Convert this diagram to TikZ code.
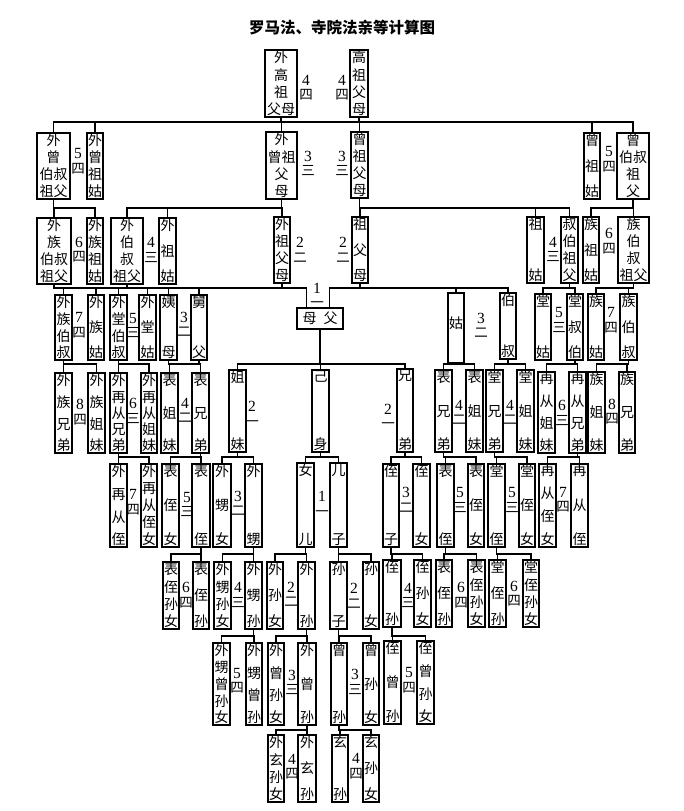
\documentclass[tikz,border=0pt]{standalone}
\usepackage{fontspec}
\setmainfont{Liberation Serif}
\newfontfamily\cjk{Noto Sans CJK SC}
\tikzset{
  bx/.style={draw, line width=1.5pt, inner sep=0pt, fill=white, font=\cjk\fontsize{14}{14}\selectfont},
  ln/.style={line width=1.1pt, line cap=rect},
  lab/.style={inner sep=0pt, align=center, font=\fontsize{15.5}{14.5}\selectfont},
}
\newcommand\nx{\par\vfill}
\newcommand\B[6]{%
  \node[bx, minimum width={#4-#2}, minimum height={#5-#3}] (#1) at ({(#2+#4)/2},{(#3+#5)/2})
  {\parbox[c][\dimexpr #5pt-#3pt-3pt\relax][s]{\dimexpr #4pt-#2pt\relax}{\centering #6\par}};}
\newcommand\Lb[6]{\node[lab] (#1) at (#2,{(#3+#4)/2}) {#5\\{\cjk\fontsize{13.5}{13.5}\selectfont #6}};}
\newcommand\famly[4]{%
  \coordinate (barY) at (0,#1);
  \draw[ln] (#2 |- barY) -- (#3 |- barY);
  \foreach \p in {#4}{\edef\tmp{\noexpand\draw[ln] (\p) -- (\p |- barY);}\tmp}%
}
\begin{document}
\begin{tikzpicture}[x=1pt,y=-1pt]
\fill[white] (0,0) rectangle (684,811);
\useasboundingbox (0,0) rectangle (684,811);
\node[font=\cjk\bfseries\fontsize{15.5}{16}\selectfont] (title) at (342,28) {罗马法、寺院法亲等计算图};
% row 1
\B{wgzfm}{265}{50}{297}{117}{外\nx 高\nx 祖\nx 父母}
\B{gzfm}{350}{50}{368}{117}{高\nx 祖\nx 父\nx 母}
% row 2
\B{wzbszf}{37}{133}{70}{199}{外\nx 曾\nx 伯叔\nx 祖父}
\B{wzzg}{87}{133}{103}{199}{外\nx 曾\nx 祖\nx 姑}
\B{wzzfm}{266}{132}{297}{199}{外\nx 曾祖\nx 父\nx 母}
\B{zzfm}{351}{132}{368}{198}{曾\nx 祖\nx 父\nx 母}
\B{zzg}{584}{133}{600}{199}{曾\nx 祖\nx 姑}
\B{zbszf}{617}{133}{649}{199}{曾\nx 伯叔\nx 祖\nx 父}
% row 3
\B{wzbszfb}{37}{218}{71}{284}{外\nx 族\nx 伯叔\nx 祖父}
\B{wzzgb}{87}{218}{103}{284}{外\nx 族\nx 祖\nx 姑}
\B{wbszf}{111}{218}{143}{284}{外\nx 伯\nx 叔\nx 祖父}
\B{wzg}{159}{218}{176}{284}{外\nx 祖\nx 姑}
\B{wzfm}{274}{217}{290}{283}{外\nx 祖\nx 父\nx 母}
\B{zfm}{352}{217}{368}{283}{祖\nx 父\nx 母}
\B{zg}{527}{217}{544}{283}{祖\nx 姑}
\B{sbzf}{561}{217}{578}{283}{叔\nx 伯\nx 祖\nx 父}
\B{zuzg}{583}{217}{599}{283}{族\nx 祖\nx 姑}
\B{zubszf}{618}{217}{649}{283}{族\nx 伯\nx 叔\nx 祖父}
% row 4
\B{wzbs}{55}{295}{72}{360}{外\nx 族\nx 伯\nx 叔}
\B{wzug}{88}{295}{104}{360}{外\nx 族\nx 姑}
\B{wtbs}{110}{295}{127}{360}{外\nx 堂\nx 伯\nx 叔}
\B{wtg}{139}{295}{156}{360}{外\nx 堂\nx 姑}
\B{ym}{160}{295}{177}{360}{姨\nx 母}
\B{jf}{191}{295}{207}{360}{舅\nx 父}
\node[bx, minimum width=46, minimum height=21] (mf) at (320,318.5) {母\hspace{7pt}父};
\coordinate (mfL) at ([xshift=10pt]mf.north west);
\coordinate (mfR) at ([xshift=-14pt]mf.north east);
\B{g}{448}{293}{464}{363}{\mbox{}\nx 姑\nx\mbox{}}
\B{bs}{500}{293}{516}{359}{伯\nx 叔}
\B{tg}{535}{294}{551}{360}{堂\nx 姑}
\B{tsb}{567}{294}{583}{360}{堂\nx 叔\nx 伯}
\B{zug}{588}{294}{604}{360}{族\nx 姑}
\B{zubs}{620}{294}{637}{360}{族\nx 伯\nx 叔}
% row 5
\B{wzxd}{55}{373}{72}{453}{外\nx 族\nx 兄\nx 弟}
\B{wzjm}{88}{373}{105}{453}{外\nx 族\nx 姐\nx 妹}
\B{wzcxd}{110}{373}{127}{453}{外\nx 再\nx 从\nx 兄\nx 弟}
\B{wzcjm}{141}{373}{157}{453}{外\nx 再\nx 从\nx 姐\nx 妹}
\B{bjm}{161}{373}{178}{453}{表\nx 姐\nx 妹}
\B{bxd}{192}{373}{209}{453}{表\nx 兄\nx 弟}
\B{jm}{229}{370}{246}{452}{姐\nx 妹}
\B{js}{312}{370}{329}{452}{己\nx 身}
\B{xd}{397}{369}{413}{452}{兄\nx 弟}
\B{bxdb}{435}{370}{452}{452}{表\nx 兄\nx 弟}
\B{bjmb}{466}{370}{483}{452}{表\nx 姐\nx 妹}
\B{txd}{486}{370}{503}{452}{堂\nx 兄\nx 弟}
\B{tjm}{517}{370}{534}{452}{堂\nx 姐\nx 妹}
\B{zcjm}{538}{372}{555}{453}{再\nx 从\nx 姐\nx 妹}
\B{zcxd}{569}{372}{586}{453}{再\nx 从\nx 兄\nx 弟}
\B{zujm}{588}{372}{605}{453}{族\nx 姐\nx 妹}
\B{zuxd}{619}{372}{635}{453}{族\nx 兄\nx 弟}
% row 6
\B{wzcz}{110}{464}{127}{547}{外\nx 再\nx 从\nx 侄}
\B{wzczn}{141}{464}{157}{547}{外\nx 再\nx 从\nx 侄\nx 女}
\B{bzn}{162}{464}{179}{547}{表\nx 侄\nx 女}
\B{bz}{192}{464}{210}{547}{表\nx 侄}
\B{wsn}{213}{464}{231}{547}{外\nx 甥\nx 女}
\B{ws}{245}{464}{262}{547}{外\nx 甥}
\B{ne}{297}{463}{314}{547}{女\nx 儿}
\B{ez}{330}{463}{347}{547}{儿\nx 子}
\B{zz}{383}{464}{399}{547}{侄\nx 子}
\B{zn}{413}{464}{430}{547}{侄\nx 女}
\B{bzb}{437}{464}{454}{547}{表\nx 侄}
\B{bznb}{468}{464}{484}{547}{表\nx 侄\nx 女}
\B{tz}{488}{464}{505}{547}{堂\nx 侄}
\B{tzn}{519}{464}{535}{547}{堂\nx 侄\nx 女}
\B{zczn}{539}{464}{556}{547}{再\nx 从\nx 侄\nx 女}
\B{zcz}{571}{464}{588}{547}{再\nx 从\nx 侄}
% row 7
\B{bzsn}{163}{562}{179}{629}{表\nx 侄\nx 孙\nx 女}
\B{bzs}{193}{562}{209}{629}{表\nx 侄\nx 孙}
\B{wssn}{214}{562}{231}{629}{外\nx 甥\nx 孙\nx 女}
\B{wss}{245}{562}{262}{629}{外\nx 甥\nx 孙}
\B{wsun}{267}{562}{283}{629}{外\nx 孙\nx 女}
\B{wsu}{298}{562}{315}{629}{外\nx 孙}
\B{sz}{330}{562}{347}{629}{孙\nx 子}
\B{sn}{363}{562}{379}{629}{孙\nx 女}
\B{zs}{383}{560}{401}{627}{侄\nx 孙}
\B{zsn}{414}{560}{431}{627}{侄\nx 孙\nx 女}
\B{bzsb}{436}{560}{452}{627}{表\nx 侄\nx 孙}
\B{bzsnb}{468}{560}{485}{627}{表\nx 侄\nx 孙\nx 女}
\B{tzs}{489}{560}{506}{627}{堂\nx 侄\nx 孙}
\B{tzsn}{523}{560}{539}{627}{堂\nx 侄\nx 孙\nx 女}
% row 8
\B{wszsn}{213}{643}{230}{725}{外\nx 甥\nx 曾\nx 孙\nx 女}
\B{wszs}{246}{643}{262}{725}{外\nx 甥\nx 曾\nx 孙}
\B{wzsn}{268}{643}{284}{725}{外\nx 曾\nx 孙\nx 女}
\B{wzs}{298}{643}{316}{725}{外\nx 曾\nx 孙}
\B{zsu}{331}{643}{347}{725}{曾\nx 孙}
\B{zsun}{363}{643}{379}{725}{曾\nx 孙\nx 女}
\B{zzs}{384}{641}{401}{724}{侄\nx 曾\nx 孙}
\B{zzsn}{417}{641}{434}{724}{侄\nx 曾\nx 孙\nx 女}
% row 9
\B{wxsn}{268}{735}{284}{802}{外\nx 玄\nx 孙\nx 女}
\B{wxs}{298}{735}{316}{802}{外\nx 玄\nx 孙}
\B{xs}{332}{735}{348}{802}{玄\nx 孙}
\B{xsn}{363}{735}{379}{802}{玄\nx 孙\nx 女}
% connectors
\famly{122}{wzbszf.north}{zbszf.north}{wgzfm.south,gzfm.south,wzbszf.north,wzzg.north,wzzfm.north,zzfm.north,zzg.north,zbszf.north}
\famly{208}{wzbszf.south}{wzzgb.north}{wzbszf.south,wzbszfb.north,wzzgb.north}
\famly{208}{wbszf.north}{wzzfm.south}{wzzfm.south,wbszf.north,wzg.north,wzfm.north}
\famly{208}{zzfm.south}{sbzf.north}{zzfm.south,zfm.north,zg.north,sbzf.north}
\famly{208}{zuzg.north}{zbszf.south}{zbszf.south,zuzg.north,zubszf.north}
\famly{288}{wzbszfb.south}{mfL}{wzbszfb.south,wzbs.north,wzug.north,wbszf.south,wtbs.north,wtg.north,wzfm.south,ym.north,jf.north,mfL}
\famly{288}{mfR}{bs.north}{zfm.south,mfR,g.north,bs.north}
\famly{288}{tg.north}{tsb.north}{sbzf.south,tg.north,tsb.north}
\famly{288}{zug.north}{zubszf.south}{zubszf.south,zug.north,zubs.north}
\famly{364}{wzxd.north}{wzjm.north}{wzbs.south,wzxd.north,wzjm.north}
\famly{364}{wzcxd.north}{wzcjm.north}{wtbs.south,wzcxd.north,wzcjm.north}
\famly{364}{ym.south}{bxd.north}{ym.south,jf.south,bjm.north,bxd.north}
\famly{364}{jm.north}{xd.north}{mf.south,jm.north,js.north,xd.north}
\famly{364}{bxdb.north}{bjmb.north}{g.south,bxdb.north,bjmb.north}
\famly{364}{txd.north}{tjm.north}{bs.south,txd.north,tjm.north}
\famly{364}{zcjm.north}{zcxd.north}{tsb.south,zcjm.north,zcxd.north}
\famly{364}{zujm.north}{zubs.south}{zubs.south,zujm.north,zuxd.north}
\famly{457}{wzcz.north}{wzczn.north}{wzcxd.south,wzcz.north,wzczn.north}
\famly{457}{bzn.north}{bz.north}{bxd.south,bzn.north,bz.north}
\famly{457}{wsn.north}{ws.north}{jm.south,wsn.north,ws.north}
\famly{457}{ne.north}{ez.north}{js.south,ne.north,ez.north}
\famly{457}{zz.north}{zn.north}{xd.south,zz.north,zn.north}
\famly{457}{bxdb.south}{bznb.north}{bxdb.south,bzb.north,bznb.north}
\famly{457}{txd.south}{tzn.north}{txd.south,tz.north,tzn.north}
\famly{457}{zczn.north}{zcz.north}{zcxd.south,zczn.north,zcz.north}
\famly{554}{bzsn.north}{bzs.north}{bz.south,bzsn.north,bzs.north}
\famly{554}{wssn.north}{wss.north}{ws.south,wssn.north,wss.north}
\famly{554}{wsun.north}{wsu.north}{ne.south,wsun.north,wsu.north}
\famly{554}{sz.north}{sn.north}{ez.south,sz.north,sn.north}
\famly{554}{zz.south}{zsn.north}{zz.south,zs.north,zsn.north}
\famly{554}{bzsb.north}{bzsnb.north}{bzb.south,bzsb.north,bzsnb.north}
\famly{554}{tz.south}{tzsn.north}{tz.south,tzs.north,tzsn.north}
\famly{636}{wszsn.north}{wszs.north}{wss.south,wszsn.north,wszs.north}
\famly{636}{wzsn.north}{wzs.north}{wsu.south,wzsn.north,wzs.north}
\famly{636}{sz.south}{zsun.north}{sz.south,zsu.north,zsun.north}
\famly{636}{zs.south}{zzsn.north}{zs.south,zzs.north,zzsn.north}
\famly{730}{wxsn.north}{wxs.north}{wzs.south,wxsn.north,wxs.north}
\famly{730}{zsu.south}{xsn.north}{zsu.south,xs.north,xsn.north}
% labels
\Lb{la1}{306}{78}{97}{4}{四}
\Lb{la2}{342}{78}{97}{4}{四}
\Lb{lb1}{78}{155}{167}{5}{四}
\Lb{lb2}{308}{155}{172}{3}{三}
\Lb{lb3}{342}{155}{172}{3}{三}
\Lb{lb4}{609}{152}{166}{5}{四}
\Lb{lc1}{79}{242}{257}{6}{四}
\Lb{lc2}{151}{243}{257}{4}{三}
\Lb{lc3}{300}{242}{258}{2}{二}
\Lb{lc4}{343}{242}{258}{2}{二}
\Lb{lc5}{553}{242}{257}{4}{三}
\Lb{lc6}{609}{233}{249}{6}{四}
\Lb{ld1}{79}{317}{333}{7}{四}
\Lb{ld2}{133}{318}{333}{5}{三}
\Lb{ld3}{184}{317}{332}{3}{二}
\Lb{ld4}{317}{289}{302}{1}{一}
\Lb{ld5}{481}{318}{333}{3}{二}
\Lb{ld6}{559}{313}{327}{5}{三}
\Lb{ld7}{611}{313}{327}{7}{四}
\Lb{le1}{80}{404}{420}{8}{四}
\Lb{le2}{133}{403}{419}{6}{三}
\Lb{le3}{185}{403}{418}{4}{二}
\Lb{le4}{252}{407}{421}{2}{一}
\Lb{le5}{388}{410}{423}{2}{一}
\Lb{le6}{459}{405}{420}{4}{二}
\Lb{le7}{510}{405}{420}{4}{二}
\Lb{le8}{562}{405}{421}{6}{三}
\Lb{le9}{612}{403}{420}{8}{四}
\Lb{lf1}{133}{495}{509}{7}{四}
\Lb{lf2}{187}{497}{512}{5}{三}
\Lb{lf3}{238}{497}{510}{3}{二}
\Lb{lf4}{322}{497}{511}{1}{一}
\Lb{lf5}{406}{493}{507}{3}{二}
\Lb{lf6}{460}{493}{507}{5}{三}
\Lb{lf7}{512}{493}{507}{5}{三}
\Lb{lf8}{563}{492}{507}{7}{四}
\Lb{lg1}{186}{588}{602}{6}{四}
\Lb{lg2}{238}{588}{602}{4}{三}
\Lb{lg3}{291}{588}{601}{2}{二}
\Lb{lg4}{354}{590}{602}{2}{二}
\Lb{lg5}{408}{590}{601}{4}{三}
\Lb{lg6}{461}{588}{602}{6}{四}
\Lb{lg7}{514}{587}{600}{6}{四}
\Lb{lh1}{237}{673}{688}{5}{四}
\Lb{lh2}{292}{675}{690}{3}{三}
\Lb{lh3}{355}{675}{689}{3}{三}
\Lb{lh4}{409}{673}{687}{5}{四}
\Lb{li1}{292}{760}{773}{4}{四}
\Lb{li2}{356}{760}{772}{4}{四}
\end{tikzpicture}
\end{document}
